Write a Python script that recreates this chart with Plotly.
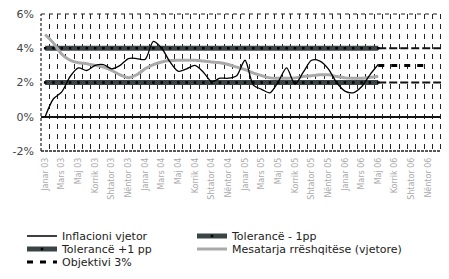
import plotly.graph_objects as go

months = ["Janar", "Mars", "Maj", "Korrik", "Shtator", "Nëntor"]
years = ["03", "04", "05", "06"]
tick_labels = [f"{m} {y}" for y in years for m in months]
tick_pos = list(range(0, 48, 2))

n_hist = 41
n_all = 49
x_hist = list(range(n_hist))

inflacioni = [0.0, 1.05, 1.45, 2.35, 2.85, 2.7, 3.0, 3.05, 2.8, 3.0,
              3.4, 3.4, 3.35, 4.4, 4.0, 3.2, 2.65, 2.8, 3.0, 2.6,
              2.05, 2.25, 2.25, 2.4, 3.3, 1.85, 1.6, 1.4, 2.05, 2.85,
              1.9, 2.6, 3.3, 3.25, 2.8, 2.0, 1.5, 1.4, 1.75, 2.45, 3.05]

mesatarja = [4.8, 4.3, 3.65, 3.3, 3.15, 3.1, 3.0, 2.9, 2.7, 2.45,
             2.28, 2.45, 2.8, 3.05, 3.2, 3.28, 3.3, 3.3, 3.3, 3.25,
             3.2, 3.15, 3.05, 2.9, 2.75, 2.55, 2.4, 2.27, 2.25, 2.25,
             2.27, 2.35, 2.4, 2.45, 2.45, 2.35, 2.27, 2.25, 2.25, 2.3, 2.37]

tol_low = [2.0] * n_hist
tol_high = [4.0] * n_hist
x_proj = list(range(n_hist - 1, n_all))
tol_low_proj = [2.0] * len(x_proj)
tol_high_proj = [4.0] * len(x_proj)
x_obj = list(range(n_hist - 1, 47))
objektivi = [3.0] * len(x_obj)
grid_pos = [i + 0.5 for i in range(-1, n_all)]

FONT = "DejaVu Sans"
band_color = "#3b4444"
W, H = 441, 271

fig = go.Figure()

# projections (no legend)
fig.add_trace(go.Scatter(x=x_proj, y=tol_high_proj, mode="lines", showlegend=False,
                         line=dict(color="#111", width=2, dash="8px,3px")))
fig.add_trace(go.Scatter(x=x_proj, y=tol_low_proj, mode="lines", showlegend=False,
                         line=dict(color="#111", width=2, dash="8px,3px")))

fig.add_trace(go.Scatter(x=x_hist, y=tol_low, mode="lines+markers", name="Tolerancë - 1pp",
                         legend="legend2",
                         line=dict(color=band_color, width=5),
                         marker=dict(symbol="square", size=2.5, color="#000")))
fig.add_trace(go.Scatter(x=x_hist, y=tol_high, mode="lines+markers", name="Tolerancë +1 pp",
                         legend="legend3",
                         line=dict(color=band_color, width=5),
                         marker=dict(symbol="square", size=2.5, color="#000")))
fig.add_trace(go.Scatter(x=x_hist, y=mesatarja, mode="lines", name="Mesatarja rrëshqitëse (vjetore)",
                         legend="legend4",
                         line=dict(color="#a9a9a9", width=3, shape="spline", smoothing=0.8)))
fig.add_trace(go.Scatter(x=x_hist, y=inflacioni, mode="lines", name="Inflacioni vjetor",
                         legend="legend",
                         line=dict(color="#000", width=1.3, shape="spline", smoothing=0.8)))
fig.add_trace(go.Scatter(x=x_obj, y=objektivi, mode="lines", name="Objektivi 3%",
                         legend="legend5",
                         line=dict(color="#000", width=3, dash="6px,7px")))

leg_common = dict(orientation="h", xref="container", yref="container",
                  xanchor="left", yanchor="middle",
                  font=dict(family=FONT, size=11, color="#222"), itemwidth=30,
                  bgcolor="rgba(0,0,0,0)")
col1, col2 = 14, 184
row1, row2, row3 = 228, 241, 254

fig.update_layout(
    width=W, height=H,
    margin=dict(l=33, r=0, t=6, b=128, autoexpand=False),
    plot_bgcolor="white", paper_bgcolor="white",
    font=dict(family=FONT, size=11, color="#333"),
    legend=dict(leg_common, x=col1 / W, y=1 - row1 / H),
    legend2=dict(leg_common, x=col2 / W, y=1 - row1 / H),
    legend3=dict(leg_common, x=col1 / W, y=1 - row2 / H),
    legend4=dict(leg_common, x=col2 / W, y=1 - row2 / H),
    legend5=dict(leg_common, x=col1 / W, y=1 - row3 / H),
    xaxis=dict(range=[-0.5, 48.5], tickmode="array", tickvals=tick_pos, ticktext=tick_labels,
               tickangle=-90, tickfont=dict(size=8, color="#aaa"), showgrid=False,
               zeroline=False, showline=False, ticks="", automargin=False, ticklabelstandoff=4,
               minor=dict(tickmode="array", tickvals=grid_pos, showgrid=True, gridcolor="#222",
                          griddash="5px,5px", gridwidth=1, ticks="")),
    yaxis=dict(range=[-2, 6], tickvals=[-2, 0, 2, 4, 6], ticktext=["-2%", "0%", "2%", "4%", "6%"],
               showgrid=False, zeroline=True, zerolinecolor="#111", zerolinewidth=2,
               showline=False, ticks="", automargin=False, ticklabelstandoff=6,
               ticklabeloverflow="allow", tickfont=dict(size=11, color="#444")),
    shapes=[
        dict(type="line", xref="paper", yref="paper", x0=0, x1=0, y0=0, y1=1,
             line=dict(color="#222", width=1.2, dash="3px,2px")),
        dict(type="line", xref="paper", yref="paper", x0=0, x1=1, y0=1, y1=1,
             line=dict(color="#222", width=1.2, dash="4px,4px")),
        dict(type="line", xref="paper", yref="paper", x0=0, x1=1, y0=0, y1=0,
             line=dict(color="#222", width=1.5, dash="3px,1px")),
    ],
)

fig.write_html("out.html")
